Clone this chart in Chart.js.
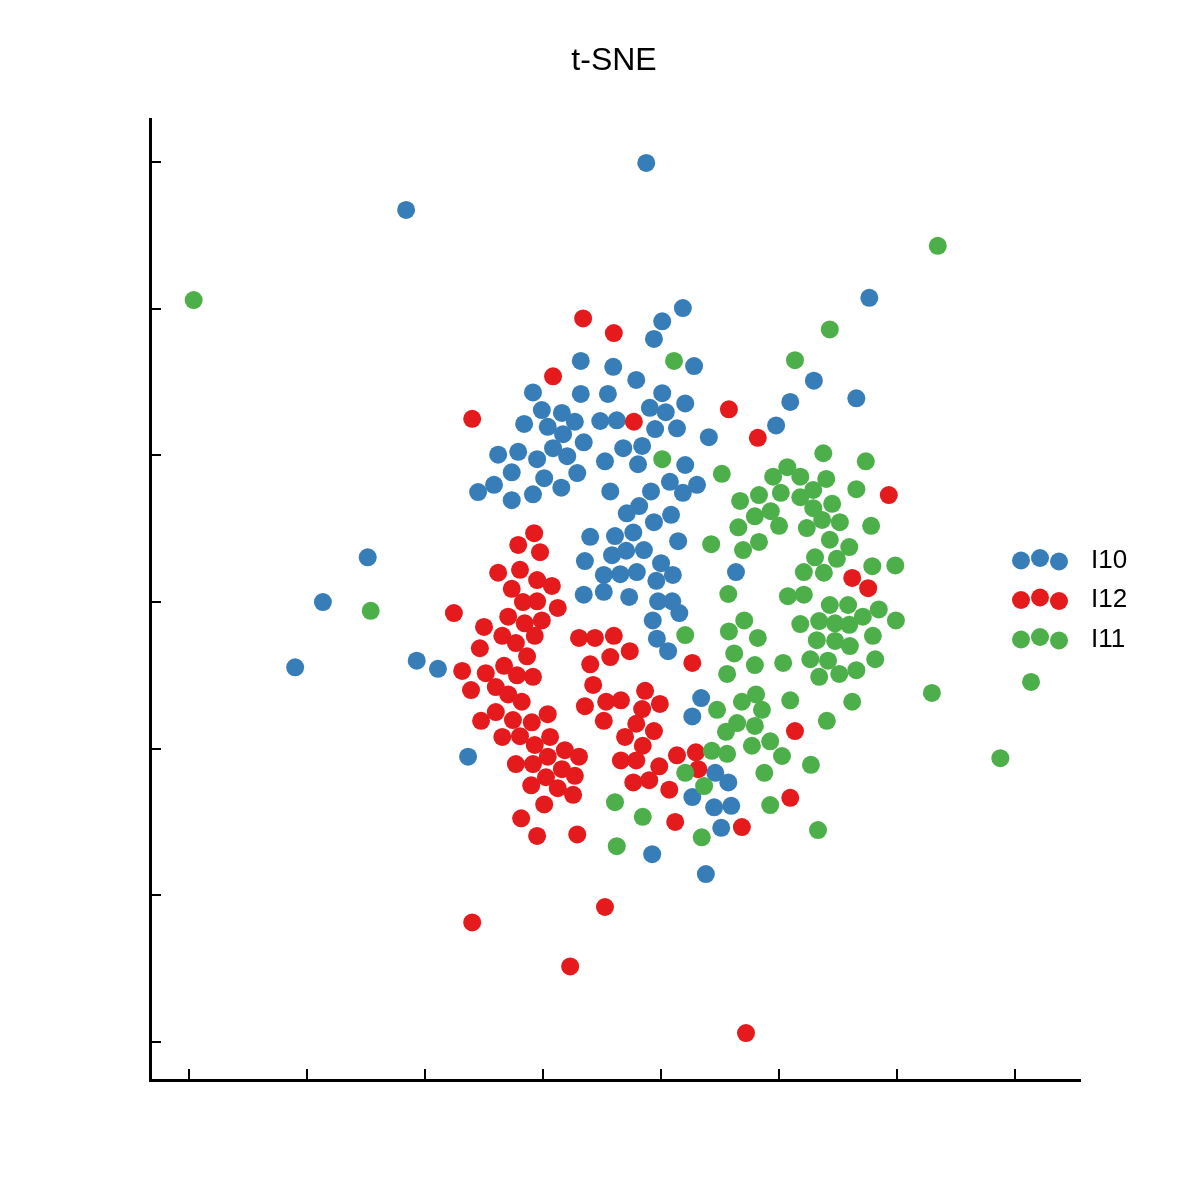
<!DOCTYPE html>
<html><head><meta charset="utf-8">
<script src="https://cdn.jsdelivr.net/npm/chart.js@4/dist/chart.umd.min.js"></script>
<style>html,body{margin:0;padding:0;background:#fff}</style>
</head><body>
<canvas id="c" width="1200" height="1200" style="width:1200px;height:1200px;display:block"></canvas>
<script>
const chartTitle = 't-SNE';
const seriesNames = ['I10', 'I12', 'I11'];
const seriesColors = ['#377eb8', '#e41a1c', '#4daf4a'];
const xTicks = [-80, -60, -40, -20, 0, 20, 40, 60];
const yTicks = [-60, -40, -20, 0, 20, 40, 60];

const i10X = [-2.5,-43.2,35.3,3.7,0.2,-1.2,-13.6,-8.1,5.6,-4.2,
  -21.7,-13.6,-9.0,0.2,4.1,-20.2,-16.8,-1.9,0.8,-23.2,
  -19.2,-14.6,-10.3,-7.5,-16.6,-1.0,2.7,8.1,25.9,21.9,
  33.1,19.5,-13.1,-18.3,-15.9,-6.4,-3.2,-27.6,-24.2,-21.0,
  -9.5,-3.9,4.1,-25.3,-19.8,-14.2,1.5,6.1,3.7,-28.3,
  -31.0,-16.9,-8.6,-1.7,-21.7,-25.3,-3.7,-5.8,-1.2,1.7,
  -12.0,-7.8,-4.7,2.9,-12.9,-8.3,-5.9,-2.9,0.0,-9.7,
  -6.9,-4.1,-0.8,2.0,-13.1,-9.7,-5.4,-0.5,1.9,3.1,
  -1.4,-0.7,1.2,12.7,-49.7,-57.3,-62.0,-41.4,-37.8,-32.7,
  6.8,5.3,9.2,11.4,5.3,9.0,11.9,10.2,-1.5,7.6];
const i10Y = [59.9,53.5,41.5,40.1,38.3,35.9,32.9,32.1,32.2,30.3,
  28.6,28.4,28.4,28.5,27.1,26.2,25.8,26.5,25.9,24.3,
  23.9,24.6,24.7,24.8,22.9,23.6,23.7,22.5,30.2,27.3,
  27.8,24.1,21.8,21.0,19.9,21.0,21.3,20.1,20.5,19.5,
  19.2,18.8,18.7,17.7,16.9,17.6,16.4,16.0,14.9,16.0,
  15.0,15.6,15.1,15.1,14.7,13.9,13.1,12.1,10.9,11.9,
  8.9,9.0,9.5,8.3,5.6,6.4,7.0,7.1,5.3,3.7,
  3.8,4.1,2.9,3.7,1.0,1.4,0.7,0.1,0.1,-1.5,
  -2.5,-5.0,-6.7,4.1,6.1,0.0,-8.9,-8.0,-9.1,-21.1,
  -13.1,-15.6,-23.3,-24.6,-26.6,-28.0,-27.8,-30.8,-34.4,-37.1];

const i12X = [-13.2,-8.0,-18.3,-32.0,-4.6,11.5,16.4,38.6,32.4,35.1,
  -21.5,-24.2,-20.5,-27.6,-23.9,-21.0,-18.5,-25.3,-23.4,-21.0,
  -17.5,-35.1,-25.9,-23.1,-20.2,-30.0,-26.9,-24.6,-21.4,-30.7,
  -22.7,-26.6,-33.7,-29.7,-24.4,-21.7,-13.9,-11.2,-8.0,-5.3,
  -8.6,-12.0,5.3,-32.2,-28.0,-25.9,-23.6,-30.5,-28.0,-25.1,
  -21.9,-19.2,-26.9,-23.9,-21.4,-18.8,-16.3,-13.9,-24.6,-21.7,
  -19.2,-16.8,-14.6,-22.0,-19.5,-17.5,-14.9,-19.8,-23.7,-21.0,
  -14.2,-11.5,-12.9,-9.3,-6.8,-2.7,-0.2,-9.7,-3.2,-4.2,
  -6.1,-1.2,-3.1,2.7,5.9,-6.8,-4.2,-0.3,6.3,-4.7,
  -2.0,1.4,2.4,13.7,22.7,21.9,-32.0,-15.4,-9.5,14.4];
const i12Y = [38.7,36.7,30.8,25.0,24.6,26.3,22.4,14.6,3.3,1.9,
  9.4,7.8,6.8,4.0,4.4,3.0,2.2,1.8,0.0,0.1,
  -0.8,-1.5,-2.0,-2.9,-2.5,-3.4,-4.6,-5.6,-4.6,-6.3,
  -7.4,-8.7,-9.4,-9.7,-10.0,-10.2,-4.9,-4.9,-4.6,-6.7,
  -7.5,-8.5,-8.3,-12.0,-11.6,-12.6,-13.6,-16.2,-15.0,-16.1,
  -16.4,-15.3,-18.4,-18.3,-19.5,-18.4,-20.2,-21.1,-22.1,-22.1,
  -21.1,-22.8,-23.7,-25.0,-23.9,-25.4,-26.3,-27.6,-29.5,-31.9,
  -31.7,-11.3,-14.2,-13.6,-13.4,-12.1,-13.9,-16.2,-14.6,-16.6,
  -18.4,-17.6,-19.6,-20.9,-20.5,-21.6,-21.6,-22.4,-22.8,-24.6,
  -24.3,-25.6,-30.0,-30.7,-17.6,-26.7,-43.7,-49.7,-41.6,-58.8];

const i11X = [-79.2,46.9,28.6,2.2,22.7,0.2,27.5,34.7,10.3,19.0,
  21.4,23.6,28.0,25.8,33.1,13.4,16.6,20.3,23.6,25.8,
  29.0,18.6,15.9,27.3,30.3,13.1,20.0,24.7,35.6,8.5,
  16.6,13.9,28.6,31.9,26.1,29.8,35.8,39.7,24.2,27.6,
  11.4,21.5,24.2,28.6,31.7,36.9,39.8,34.2,23.6,26.8,
  29.5,31.9,14.1,11.5,16.4,26.4,29.5,32.0,35.9,4.1,
  12.4,15.9,20.7,25.3,28.3,36.3,33.1,30.2,26.8,11.2,
  32.4,9.5,13.7,16.1,17.1,21.9,28.1,12.9,11.0,15.9,
  15.4,18.5,20.5,25.4,8.6,11.2,4.1,7.3,17.5,18.5,
  26.6,6.9,-7.8,-3.1,-7.5,-49.2,45.9,62.7,57.5];
const i11Y = [41.2,48.6,37.2,32.9,33.0,19.5,20.3,19.2,17.5,17.1,
  18.4,17.1,16.8,15.3,15.4,13.8,14.6,14.9,14.3,12.8,
  13.4,12.4,11.7,11.2,10.9,10.2,10.4,10.1,10.4,7.9,
  8.2,7.1,8.5,7.5,6.1,5.9,4.9,5.0,4.1,4.0,
  1.1,0.8,1.0,-0.4,-0.4,-1.0,-2.5,-2.0,-3.0,-2.6,
  -2.9,-3.1,-2.5,-4.0,-4.9,-5.2,-5.3,-6.0,-4.6,-4.5,
  -7.0,-8.6,-8.3,-7.8,-8.0,-7.8,-9.3,-9.8,-10.2,-9.8,
  -13.6,-14.7,-13.6,-12.6,-14.7,-13.4,-16.2,-16.5,-17.7,-16.9,
  -19.6,-19.0,-21.0,-22.2,-20.3,-20.7,-23.3,-25.1,-23.3,-27.7,
  -31.1,-32.1,-27.3,-29.3,-33.3,-1.2,-12.4,-10.9,-21.3];

function pts(xs, ys) { return xs.map((x, i) => ({ x: x, y: ys[i] })); }
const seriesData = [pts(i10X, i10Y), pts(i12X, i12Y), pts(i11X, i11Y)];

const FONT = '"Liberation Sans", Arial, Helvetica, sans-serif';

const extras = {
  id: 'extras',
  afterDraw(chart) {
    const ctx = chart.ctx;
    const a = chart.chartArea;
    const xs = chart.scales.x, ys = chart.scales.y;
    ctx.save();
    // inward tick marks
    ctx.strokeStyle = '#000';
    ctx.lineWidth = 2;
    ctx.beginPath();
    xTicks.forEach(v => {
      const px = Math.round(xs.getPixelForValue(v));
      ctx.moveTo(px, a.bottom); ctx.lineTo(px, a.bottom - 11);
    });
    yTicks.forEach(v => {
      const py = Math.round(ys.getPixelForValue(v));
      ctx.moveTo(a.left, py); ctx.lineTo(a.left + 11, py);
    });
    ctx.stroke();
    // title
    ctx.fillStyle = '#000';
    ctx.font = '32px ' + FONT;
    ctx.textAlign = 'center';
    ctx.textBaseline = 'alphabetic';
    ctx.fillText(chartTitle, (a.left + a.right) / 2 - 1, 70);
    // legend
    const dotOffsets = [[-59, 2.5], [-40, 0], [-21, 3.5]];
    seriesNames.forEach((name, i) => {
      const cy = 558 + i * 39.5;
      ctx.fillStyle = seriesColors[i];
      dotOffsets.forEach(([dx, dy]) => {
        ctx.beginPath();
        ctx.arc(a.right + dx, cy + dy, 9, 0, Math.PI * 2);
        ctx.fill();
      });
      ctx.fillStyle = '#000';
      ctx.font = '26px ' + FONT;
      ctx.textAlign = 'left';
      ctx.fillText(name, a.right + 11, cy + 9.5);
    });
    ctx.restore();
  }
};

new Chart(document.getElementById('c'), {
  type: 'scatter',
  data: {
    datasets: seriesNames.map((n, i) => ({
      label: n,
      data: seriesData[i],
      backgroundColor: seriesColors[i],
      borderColor: seriesColors[i],
      pointRadius: 9,
      pointBorderWidth: 0,
      pointHoverRadius: 9,
      order: 3 - i,
      clip: false
    }))
  },
  options: {
    responsive: false,
    animation: false,
    events: [],
    layout: { padding: { left: 150, right: 120, top: 119, bottom: 120 } },
    plugins: { legend: { display: false }, title: { display: false }, tooltip: { enabled: false } },
    scales: {
      x: {
        type: 'linear', min: -86.6, max: 71.0,
        ticks: { display: false },
        grid: { display: false, drawTicks: false },
        border: { display: true, color: '#000', width: 3 },
        afterFit(s) { s.height = 0; }
      },
      y: {
        type: 'linear', min: -65.2, max: 65.9,
        ticks: { display: false },
        grid: { display: false, drawTicks: false },
        border: { display: true, color: '#000', width: 3 },
        afterFit(s) { s.width = 0; }
      }
    }
  },
  plugins: [extras]
});
</script>
</body></html>
